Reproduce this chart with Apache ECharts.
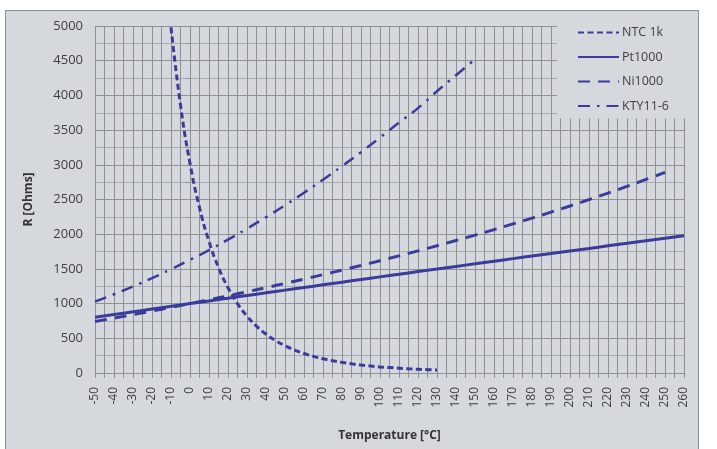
<!DOCTYPE html>
<html>
<head>
<meta charset="utf-8">
<script src="https://cdn.jsdelivr.net/npm/echarts@6/dist/echarts.min.js"></script>
<style>
  html, body { margin: 0; padding: 0; background: #ffffff; }
  #frame { position: absolute; left: 5px; top: 10px; width: 692px; height: 445px;
           background: #d5d8dc; border: 1px solid #8c8e92; }
  #chart { position: absolute; left: 0; top: 0; width: 717px; height: 449px; }
</style>
</head>
<body>
<div id="frame"></div>
<div id="chart"></div>
<script>
// Temperatures (°C)
const ptTemps  = [-50,-40,-30,-20,-10,0,10,20,30,40,50,60,70,80,90,100,110,120,130,140,150,160,170,180,190,200,210,220,230,240,250,260];
const ptValues = [803,843,882,922,961,1000,1039,1078,1117,1155,1194,1232,1271,1309,1347,1385,1423,1461,1498,1536,1573,1611,1648,1685,1722,1759,1795,1832,1868,1905,1941,1977];

const niTemps  = [-50,-40,-30,-20,-10,0,10,20,30,40,50,60,70,80,90,100,110,120,130,140,150,160,170,180,190,200,210,220,230,240,250];
const niValues = [743,791,841,893,946,1000,1056,1112,1171,1230,1291,1353,1417,1483,1549,1618,1688,1760,1833,1909,1986,2066,2148,2232,2318,2407,2498,2592,2689,2789,2892];

const ktyTemps  = [-50,-40,-30,-20,-10,0,10,20,30,40,50,60,70,80,90,100,110,120,130,140,150];
const ktyValues = [1030,1135,1247,1367,1495,1630,1772,1922,2080,2245,2417,2597,2785,2980,3182,3392,3607,3817,4060,4290,4520];

const ntcTemps  = [-10,-5,0,5,10,15,20,25,30,35,40,45,50,55,60,65,70,75,80,85,90,95,100,105,110,115,120,125,130];
const ntcValues = [4980,3862,3020,2383,1896,1520,1229,1000,820,676,561,468,393,332,281,240,205,177,153,132,115,101,88,78,69,61,54,48,43];

const seriesNames = ['NTC 1k','Pt1000','Ni1000','KTY11-6'];

function pairs(xs, ys) { return xs.map((x, i) => [x, ys[i]]); }

const lineColor = '#3a3c9c';
const gridColor = '#8e9094';
const minorGridColor = '#a9acb0';
const labelFont = '"Open Sans", "Noto Sans", sans-serif';

const chart = echarts.init(document.getElementById('chart'), null, { renderer: 'canvas' });
chart.setOption({
  backgroundColor: 'transparent',
  animation: false,
  grid: { left: 95, right: 33, top: 26, bottom: 76, containLabel: false },
  legend: {
    orient: 'vertical',
    left: 557, top: 11,
    padding: [15, 24, 6, 20],
    backgroundColor: '#d5d8dc',
    itemWidth: 41, itemHeight: 14, itemGap: 11.5,
    itemStyle: { opacity: 0 },
    textStyle: { fontFamily: labelFont, fontSize: 12.5, color: '#404040', padding: [0, 0, 0, -2] },
    data: seriesNames
  },
  xAxis: {
    type: 'value', min: -50, max: 260, interval: 10,
    name: 'Temperature [°C]', nameLocation: 'middle', nameGap: 57,
    nameTextStyle: { fontFamily: labelFont, fontSize: 12, fontWeight: 'bold', color: '#333' },
    axisLine: { show: true, lineStyle: { color: gridColor, width: 1 } },
    axisTick: { show: true, length: 5, lineStyle: { color: gridColor } },
    minorTick: { show: true, splitNumber: 2, length: 5, lineStyle: { color: gridColor } },
    splitLine: { show: true, lineStyle: { color: gridColor, width: 1 } },
    minorSplitLine: { show: true, lineStyle: { color: gridColor, width: 1 } },
    axisLabel: { rotate: 90, margin: 14, fontFamily: labelFont, fontSize: 12, color: '#404040',
                 formatter: v => String(v) }
  },
  yAxis: {
    type: 'value', min: 0, max: 5000, interval: 500,
    name: 'R [Ohms]', nameLocation: 'middle', nameGap: 60, nameRotate: 90,
    nameTextStyle: { fontFamily: labelFont, fontSize: 12, fontWeight: 'bold', color: '#333' },
    axisLine: { show: true, lineStyle: { color: gridColor, width: 1 } },
    axisTick: { show: true, length: 4, lineStyle: { color: gridColor } },
    minorTick: { show: true, splitNumber: 2, length: 5, lineStyle: { color: gridColor } },
    splitLine: { show: true, lineStyle: { color: gridColor, width: 1 } },
    minorSplitLine: { show: true, lineStyle: { color: minorGridColor, width: 1 } },
    axisLabel: { margin: 12, fontFamily: labelFont, fontSize: 13, color: '#404040',
                 formatter: v => String(v) }
  },
  series: [
    { name: seriesNames[0], type: 'line', data: pairs(ntcTemps, ntcValues), smooth: true,
      symbol: 'none', color: lineColor,
      lineStyle: { width: 3, type: [6, 3.5], color: lineColor } },
    { name: seriesNames[1], type: 'line', data: pairs(ptTemps, ptValues), smooth: true,
      symbol: 'none', color: lineColor,
      lineStyle: { width: 3, type: 'solid', color: lineColor } },
    { name: seriesNames[2], type: 'line', data: pairs(niTemps, niValues), smooth: true,
      symbol: 'none', color: lineColor,
      lineStyle: { width: 3, type: [12, 8], color: lineColor } },
    { name: seriesNames[3], type: 'line', data: pairs(ktyTemps, ktyValues), smooth: true,
      symbol: 'none', color: lineColor,
      lineStyle: { width: 2.5, type: [12, 7, 2.5, 7], color: lineColor } }
  ]
});
</script>
</body>
</html>
